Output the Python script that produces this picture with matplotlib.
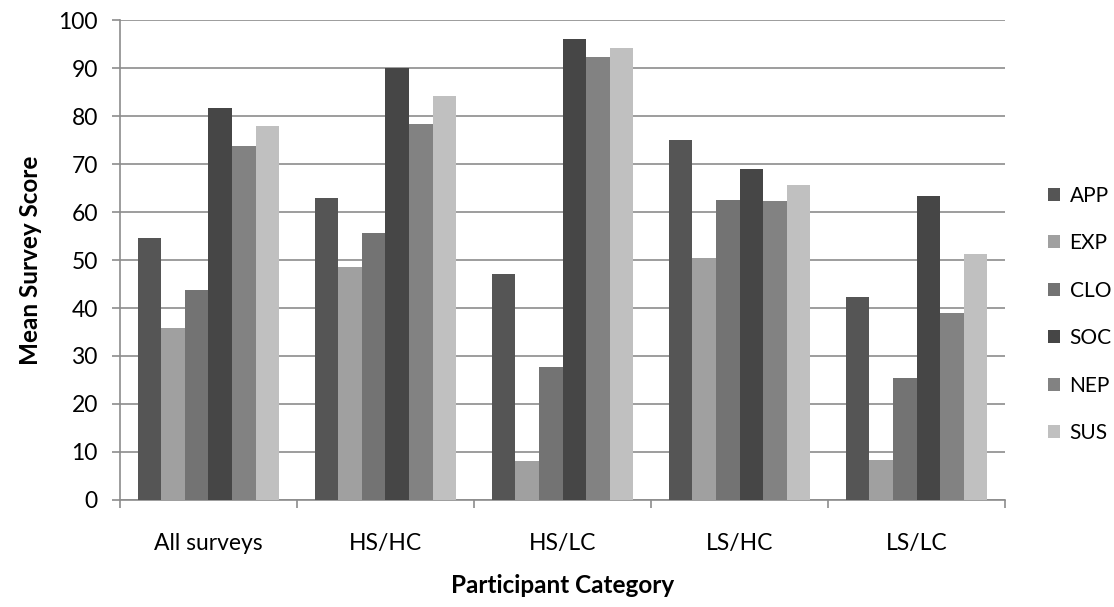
import numpy as np
import matplotlib
matplotlib.use("Agg")
from matplotlib import pyplot as plt

# Mean survey scores per participant category
CATEGORIES = ["All surveys", "HS/HC", "HS/LC", "LS/HC", "LS/LC"]
SERIES = ["APP", "EXP", "CLO", "SOC", "NEP", "SUS"]

app = [54.5, 62.9, 47.1, 75.0, 42.3]
exp = [35.9, 48.6, 8.2, 50.4, 8.3]
clo = [43.8, 55.7, 27.7, 62.6, 25.4]
soc = [81.7, 90.0, 96.0, 68.9, 63.3]
nep = [73.8, 78.3, 92.4, 62.3, 38.9]
sus = [77.9, 84.1, 94.1, 65.6, 51.2]

COLORS = ["#555555", "#a0a0a0", "#737373", "#464646", "#828282", "#c0c0c0"]
GRID = "#8c8c8c"
FS = 16.5

plt.rcParams["font.family"] = ["Lato", "DejaVu Sans"]

fig = plt.figure(figsize=(11.14, 6.07), dpi=100)
ax = fig.add_axes([0.1077, 0.1763, 0.7945, 0.7907])

values = [app, exp, clo, soc, nep, sus]
x = np.arange(len(CATEGORIES))
width = 1 / 7.5
for i, (name, vals) in enumerate(zip(SERIES, values)):
    offset = (i - 2.5) * width
    ax.bar(x + offset, vals, width, color=COLORS[i], label=name, zorder=3)

ax.set_xlim(-0.5, len(CATEGORIES) - 0.5)
ax.set_ylim(0, 100)
ax.set_yticks(np.arange(0, 101, 10))
ax.yaxis.grid(True, color=GRID, linewidth=1.2, zorder=0)

for side in ["top", "right"]:
    ax.spines[side].set_visible(False)
for side in ["left", "bottom"]:
    ax.spines[side].set_color(GRID)
    ax.spines[side].set_linewidth(1.2)

ax.set_xticks(x)
ax.set_xticklabels(CATEGORIES)
ax.set_xticks(np.arange(-0.5, len(CATEGORIES)), minor=True)
ax.tick_params(axis="x", which="major", length=0, pad=24, labelsize=FS)
ax.tick_params(axis="x", which="minor", length=6, width=1.2, color=GRID)
ax.tick_params(axis="y", length=6, width=1.2, color=GRID, pad=10, labelsize=FS)

ax.set_ylabel("Mean Survey Score", fontsize=17.5, fontweight="bold", labelpad=12)
ax.set_xlabel("Participant Category", fontsize=17.5, fontweight="bold", labelpad=14)

# legend sits to the right of the plot, one square per series
fig.legend(loc="center left", bbox_to_anchor=(0.933, 0.482), frameon=False,
           fontsize=15, handlelength=0.6, handleheight=0.6, handletextpad=0.45,
           labelspacing=1.32, borderaxespad=0)

fig.savefig("out.png", dpi=100)
